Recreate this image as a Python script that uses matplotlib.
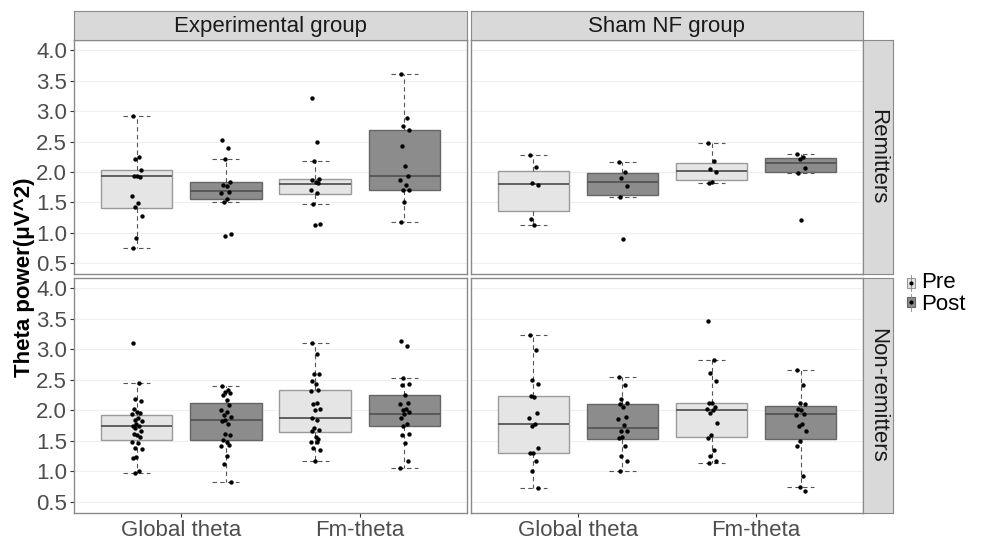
import numpy as np
import matplotlib
matplotlib.use("Agg")
import matplotlib.pyplot as plt

plt.rcParams['font.family'] = ['Liberation Sans', 'DejaVu Sans']

groups = ["Experimental group", "Sham NF group"]
outcomes = ["Remitters", "Non-remitters"]
measures = ["Global theta", "Fm-theta"]
times = ["Pre", "Post"]
y_ticks = [0.5, 1.0, 1.5, 2.0, 2.5, 3.0, 3.5, 4.0]

# box stats: [whislo, q1, med, q3, whishi]
# order: Global Pre, Global Post, Fm Pre, Fm Post
exp_rem_stats = [[0.75, 1.41, 1.93, 2.03, 2.92],
                 [1.50, 1.56, 1.68, 1.84, 2.22],
                 [1.47, 1.64, 1.80, 1.88, 2.18],
                 [1.18, 1.70, 1.94, 2.69, 3.61]]
sham_rem_stats = [[1.12, 1.36, 1.80, 2.02, 2.28],
                  [1.58, 1.62, 1.83, 1.98, 2.16],
                  [1.82, 1.87, 2.02, 2.15, 2.48],
                  [1.98, 1.99, 2.14, 2.23, 2.30]]
exp_non_stats = [[0.98, 1.52, 1.75, 1.93, 2.45],
                 [0.83, 1.51, 1.84, 2.12, 2.40],
                 [1.18, 1.64, 1.87, 2.33, 3.11],
                 [1.06, 1.75, 1.95, 2.26, 2.53]]
sham_non_stats = [[0.73, 1.30, 1.77, 2.24, 3.23],
                  [1.00, 1.54, 1.71, 2.10, 2.54],
                  [1.14, 1.56, 2.01, 2.13, 2.82],
                  [0.74, 1.53, 1.94, 2.07, 2.66]]

exp_rem_pts = [[2.92, 2.24, 2.21, 2.03, 1.93, 1.93, 1.92, 1.61, 1.48, 1.42, 1.28, 0.91, 0.75],
               [2.53, 2.40, 2.22, 1.84, 1.78, 1.76, 1.67, 1.65, 1.56, 1.50, 0.97, 0.95],
               [3.22, 2.49, 2.18, 1.88, 1.87, 1.83, 1.81, 1.71, 1.65, 1.47, 1.14, 1.12],
               [3.61, 2.89, 2.75, 2.69, 2.42, 2.10, 1.94, 1.87, 1.78, 1.71, 1.70, 1.50, 1.18]]
sham_rem_pts = [[2.28, 2.08, 1.82, 1.78, 1.22, 1.12],
                [2.16, 1.99, 1.90, 1.76, 1.58, 0.90],
                [2.48, 2.18, 2.04, 2.00, 1.82, 1.83],
                [2.30, 2.24, 2.22, 2.07, 1.98, 1.21]]
exp_non_pts = [[3.10, 2.45, 2.18, 2.16, 2.02, 1.98, 1.96, 1.94, 1.87, 1.84, 1.82, 1.78, 1.75,
                1.74, 1.71, 1.66, 1.61, 1.59, 1.56, 1.49, 1.47, 1.38, 1.37, 1.23, 1.22, 1.01, 0.98],
               [2.40, 2.34, 2.31, 2.28, 2.26, 2.17, 2.09, 2.00, 1.97, 1.93, 1.89, 1.84, 1.82,
                1.77, 1.62, 1.60, 1.51, 1.48, 1.44, 1.42, 1.26, 1.12, 0.83],
               [3.11, 2.93, 2.60, 2.59, 2.48, 2.44, 2.33, 2.32, 2.12, 2.10, 2.03, 2.00, 1.87,
                1.85, 1.72, 1.68, 1.66, 1.56, 1.54, 1.49, 1.48, 1.38, 1.36, 1.18],
               [3.13, 3.05, 2.53, 2.44, 2.42, 2.26, 2.13, 2.11, 2.03, 2.00, 1.97, 1.94, 1.88,
                1.77, 1.75, 1.61, 1.59, 1.47, 1.18, 1.06]]
sham_non_pts = [[3.23, 2.99, 2.50, 2.43, 2.24, 2.22, 1.96, 1.88, 1.77, 1.75, 1.38, 1.31, 1.30,
                 1.18, 1.00, 0.73],
                [2.54, 2.42, 2.18, 2.13, 2.11, 2.05, 1.90, 1.86, 1.76, 1.67, 1.66, 1.56, 1.55,
                 1.42, 1.25, 1.17, 1.00],
                [3.47, 2.82, 2.62, 2.49, 2.13, 2.12, 2.05, 2.02, 2.00, 1.96, 1.80, 1.59, 1.55,
                 1.36, 1.25, 1.18, 1.14],
                [2.66, 2.41, 2.13, 2.11, 2.02, 2.00, 1.95, 1.93, 1.77, 1.75, 1.67, 1.50, 1.42,
                 0.93, 0.74, 0.68]]

panel_stats = {("Experimental group", "Remitters"): exp_rem_stats,
               ("Sham NF group", "Remitters"): sham_rem_stats,
               ("Experimental group", "Non-remitters"): exp_non_stats,
               ("Sham NF group", "Non-remitters"): sham_non_stats}
panel_pts = {("Experimental group", "Remitters"): exp_rem_pts,
             ("Sham NF group", "Remitters"): sham_rem_pts,
             ("Experimental group", "Non-remitters"): exp_non_pts,
             ("Sham NF group", "Non-remitters"): sham_non_pts}

W, H = 989, 539
fills = {"Pre": "#E5E5E5", "Post": "#8C8C8C"}
edges = {"Pre": "#9A9A9A", "Post": "#666666"}
jit = np.array([-0.02, 0.012, -0.006, 0.024, -0.016, 0.004, 0.018, -0.026, 0.008, -0.01, 0.028, -0.002])


def rect(l, t, r, b):
    return [l / W, 1 - b / H, (r - l) / W, (b - t) / H]


fig = plt.figure(figsize=(W / 100, H / 100), dpi=100)

col_x = [(74, 467), (471, 863)]
row_y = [(40, 274), (278, 513)]

for ri, outc in enumerate(outcomes):
    for ci, grp in enumerate(groups):
        l, r = col_x[ci]
        t, b = row_y[ri]
        ax = fig.add_axes(rect(l, t, r, b))
        ax.set_facecolor("white")
        stats = panel_stats[(grp, outc)]
        pts = panel_pts[(grp, outc)]
        k = 0
        for mi, meas in enumerate(measures):
            for ti, tm in enumerate(times):
                s = stats[k]
                pos = mi + 1 + (-0.25 if ti == 0 else 0.25)
                d = dict(whislo=s[0], q1=s[1], med=s[2], q3=s[3], whishi=s[4], fliers=[])
                ax.bxp([d], positions=[pos], widths=0.4, capwidths=0.15, patch_artist=True,
                       showfliers=False,
                       boxprops=dict(facecolor=fills[tm], edgecolor=edges[tm], lw=1.0),
                       medianprops=dict(color="#555555", lw=1.3),
                       whiskerprops=dict(color="#555555", lw=0.8, ls=(0, (4, 3))),
                       capprops=dict(color="#555555", lw=0.8, ls=(0, (4, 3))),
                       zorder=2)
                vals = np.array(pts[k])
                xs = pos + jit[np.arange(len(vals)) % len(jit)]
                ax.scatter(xs, vals, s=10, color="black", zorder=4, lw=0)
                k += 1
        ax.set_xlim(0.4, 2.6)
        ax.set_ylim(0.32, 4.17)
        ax.set_yticks(y_ticks)
        ax.set_xticks([1, 2])
        ax.grid(axis="y", color="#EFEFEF", lw=0.8)
        ax.set_axisbelow(True)
        for sp in ax.spines.values():
            sp.set_color("#8A8A8A")
            sp.set_linewidth(1.0)
        ax.tick_params(colors="#333333", length=3, width=0.8, labelsize=16, labelcolor="#4D4D4D", pad=2)
        if ci == 0:
            ax.set_yticklabels([f"{v:.1f}" for v in y_ticks])
        else:
            ax.tick_params(axis="y", left=False, labelleft=False)
        if ri == 1:
            ax.set_xticklabels(measures)
        else:
            ax.tick_params(axis="x", bottom=False, labelbottom=False)

# top strips
for ci, grp in enumerate(groups):
    l, r = col_x[ci]
    sa = fig.add_axes(rect(l, 11, r, 40))
    sa.set_facecolor("#D9D9D9")
    sa.set_xticks([])
    sa.set_yticks([])
    for sp in sa.spines.values():
        sp.set_color("#8A8A8A")
    sa.text(0.5, 0.45, grp, ha="center", va="center", fontsize=16, color="#1A1A1A", transform=sa.transAxes)

# right strips
for ri, outc in enumerate(outcomes):
    t, b = row_y[ri]
    sa = fig.add_axes(rect(863, t, 893, b))
    sa.set_facecolor("#D9D9D9")
    sa.set_xticks([])
    sa.set_yticks([])
    for sp in sa.spines.values():
        sp.set_color("#8A8A8A")
    sa.text(0.5, 0.5, outc, ha="center", va="center", fontsize=16, color="#1A1A1A",
            rotation=-90, transform=sa.transAxes)

# y label
fig.text(25 / W, 1 - 277 / H, "Theta power(μV^2)", rotation=90, ha="center", va="center",
         fontsize=16, fontweight="bold", color="black")

# legend
la = fig.add_axes(rect(902, 272, 920, 314))
la.set_xlim(0, 1)
la.set_ylim(0, 1)
la.axis("off")
for i, tm in enumerate(times):
    yc = 0.74 - i * 0.46
    la.plot([0.5, 0.5], [yc - 0.2, yc + 0.2], color="#888888", lw=0.6)
    la.add_patch(plt.Rectangle((0.28, yc - 0.12), 0.44, 0.24, facecolor=fills[tm], edgecolor=edges[tm], lw=0.8))
    la.plot([0.5], [yc], marker="o", ms=2, color="black")
    fig.text(921 / W, 1 - (283 + i * 22) / H, tm, ha="left", va="center", fontsize=16, color="black")

fig.savefig("out.png", dpi=100)
